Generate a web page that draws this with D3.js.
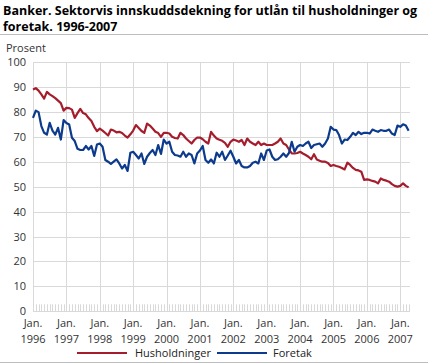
<!DOCTYPE html>
<html>
<head>
<meta charset="utf-8">
<script src="https://cdn.jsdelivr.net/npm/d3@7"></script>
<style>
  html, body { margin: 0; padding: 0; background: #fff; }
  svg { display: block; font-family: "Open Sans", "DejaVu Sans", sans-serif; }
</style>
</head>
<body>
<div id="chart"></div>
<script>
// Monthly values, Jan. 1996 - Apr. 2007 (percent)
const years = [1996, 1997, 1998, 1999, 2000, 2001, 2002, 2003, 2004, 2005, 2006, 2007];
const yTicks = [0, 10, 20, 30, 40, 50, 60, 70, 80, 90, 100];

const husholdninger = [
  89.0, 89.5, 88.5, 87.0, 85.3, 88.0, 87.0, 86.3, 85.5, 84.5, 83.5, 80.5, // 1996
  81.6, 81.5, 80.9, 77.6, 79.5, 81.2, 79.5, 79.0, 77.5, 76.3, 74.0, 72.3, // 1997
  73.3, 72.5, 71.5, 70.5, 72.9, 72.5, 71.8, 72.0, 71.5, 70.5, 69.7, 71.0, // 1998
  72.5, 74.7, 73.5, 72.3, 71.6, 75.3, 74.5, 73.3, 72.0, 71.5, 70.0, 71.6, // 1999
  71.6, 71.3, 70.0, 69.5, 69.3, 71.6, 70.7, 69.3, 68.3, 67.3, 68.7, 69.7, // 2000
  69.7, 69.0, 68.0, 67.3, 72.0, 70.5, 69.3, 68.8, 68.4, 67.6, 66.0, 68.0, // 2001
  68.9, 68.5, 68.0, 68.7, 66.7, 69.3, 68.0, 67.3, 66.7, 68.0, 66.7, 67.3, // 2002
  66.7, 66.7, 66.7, 67.3, 68.0, 69.3, 67.3, 66.7, 64.9, 63.3, 63.3, 63.5, // 2003
  64.0, 63.3, 62.7, 62.0, 61.0, 63.0, 60.9, 60.4, 60.0, 60.0, 59.5, 58.3, // 2004
  58.7, 58.3, 58.0, 57.5, 56.9, 59.6, 58.7, 57.5, 56.7, 56.5, 56.0, 52.7, // 2005
  52.9, 52.7, 52.3, 52.0, 51.3, 53.3, 52.7, 52.4, 52.0, 51.0, 50.3, 50.0, // 2006
  50.3, 51.3, 50.3, 49.7                                                  // 2007
];

const foretak = [
  77.6, 80.5, 79.9, 74.3, 71.6, 70.9, 75.6, 72.5, 70.9, 73.6, 68.9, 76.7, // 1996
  75.5, 74.9, 69.6, 68.3, 65.2, 64.7, 64.7, 66.3, 64.9, 66.3, 62.3, 66.9, // 1997
  67.3, 66.0, 60.7, 60.0, 59.1, 60.0, 60.9, 59.3, 57.3, 58.7, 56.3, 63.6, // 1998
  64.0, 62.7, 61.3, 63.3, 59.1, 62.0, 63.5, 64.7, 62.7, 66.7, 63.1, 68.9, // 1999
  67.3, 68.0, 64.0, 62.7, 62.5, 62.0, 64.0, 62.0, 63.3, 62.7, 59.3, 63.3, // 2000
  64.5, 66.3, 60.7, 59.6, 60.9, 59.3, 63.6, 62.0, 64.0, 60.7, 62.5, 64.4, // 2001
  62.0, 59.3, 60.7, 58.3, 57.7, 57.7, 58.3, 59.6, 60.0, 59.3, 63.3, 60.7, // 2002
  64.5, 64.9, 62.0, 60.7, 61.0, 62.0, 63.3, 62.0, 63.5, 68.0, 64.0, 66.0, // 2003
  66.7, 66.3, 67.3, 68.0, 65.5, 66.7, 67.0, 67.3, 66.0, 67.3, 69.3, 74.0, // 2004
  72.9, 72.7, 70.7, 67.3, 68.9, 68.7, 70.0, 71.6, 70.7, 72.0, 71.1, 71.6, // 2005
  71.6, 71.3, 72.9, 72.4, 72.0, 72.7, 72.4, 72.4, 72.9, 71.3, 70.7, 74.5, // 2006
  74.0, 75.0, 74.5, 72.4                                                  // 2007
];

const seriesNames = ["Husholdninger", "Foretak"];
const seriesColors = ["#a51d2d", "#0c3a8c"];

const width = 428, height = 364;
const margin = { left: 33, right: 18, top: 62, bottom: 53 };

const svg = d3.select("#chart").append("svg")
  .attr("width", width)
  .attr("height", height);

// Title (two lines)
const title = svg.append("text")
  .attr("fill", "#000")
  .attr("font-size", "12.5px")
  .attr("font-weight", "bold");
title.append("tspan").attr("x", 3).attr("y", 15)
  .text("Banker. Sektorvis innskuddsdekning for utlån til husholdninger og");
title.append("tspan").attr("x", 3).attr("y", 31)
  .text("foretak. 1996-2007");

// rules above and below the chart
svg.append("g")
  .selectAll("line")
  .data([34.5, 362.5])
  .join("line")
  .attr("x1", 0).attr("x2", width)
  .attr("y1", (d) => d).attr("y2", (d) => d)
  .attr("stroke", "#bdbdbd");

svg.append("text")
  .attr("x", 6).attr("y", 52)
  .attr("font-size", "11px")
  .attr("fill", "#333")
  .text("Prosent");

// Scales
const nMonths = husholdninger.length;
const x = d3.scaleLinear()
  .domain([0, 135.5])
  .range([margin.left, width - margin.right]);
const y = d3.scaleLinear()
  .domain([0, 100])
  .range([height - margin.bottom + 0.3, margin.top]);

// Horizontal grid
svg.append("g")
  .selectAll("line")
  .data(yTicks)
  .join("line")
  .attr("x1", x(0)).attr("x2", x(135.5))
  .attr("y1", (d) => Math.round(y(d)) + 0.5)
  .attr("y2", (d) => Math.round(y(d)) + 0.5)
  .attr("stroke", "#d9d9d9");

// Vertical grid at each January
svg.append("g")
  .selectAll("line")
  .data(years)
  .join("line")
  .attr("x1", (_, i) => Math.round(x(i * 12)) + 0.5)
  .attr("x2", (_, i) => Math.round(x(i * 12)) + 0.5)
  .attr("y1", y(100)).attr("y2", y(0))
  .attr("stroke", "#d9d9d9");

// Monthly ticks along the bottom
svg.append("g")
  .selectAll("line")
  .data(d3.range(nMonths))
  .join("line")
  .attr("x1", (d) => Math.round(x(d)) + 0.5)
  .attr("x2", (d) => Math.round(x(d)) + 0.5)
  .attr("y1", y(0) - 7).attr("y2", y(0))
  .attr("stroke", "#d9d9d9");

// Y labels
svg.append("g")
  .selectAll("text")
  .data(yTicks)
  .join("text")
  .attr("x", 26)
  .attr("y", (d) => y(d) + 4)
  .attr("text-anchor", "end")
  .attr("font-size", "11px")
  .attr("fill", "#333")
  .text((d) => d);

// X labels: "Jan." over the year
const xl = svg.append("g")
  .selectAll("text")
  .data(years)
  .join("text")
  .attr("text-anchor", "middle")
  .attr("font-size", "11px")
  .attr("fill", "#333");
xl.append("tspan")
  .attr("x", (_, i) => x(i * 12))
  .attr("y", 327)
  .text("Jan.");
xl.append("tspan")
  .attr("x", (_, i) => x(i * 12))
  .attr("y", 343)
  .text((d) => d);

// Lines
const line = d3.line()
  .x((_, i) => x(i))
  .y((d) => y(d));

[husholdninger, foretak].forEach((values, k) => {
  svg.append("path")
    .datum(values)
    .attr("fill", "none")
    .attr("stroke", seriesColors[k])
    .attr("stroke-width", 2.2)
    .attr("stroke-linejoin", "round")
    .attr("d", line);
});

// Legend
const legendX = [77, 217];
const legend = svg.append("g")
  .selectAll("g")
  .data(seriesNames)
  .join("g")
  .attr("transform", (_, i) => `translate(${legendX[i]},353)`);
legend.append("line")
  .attr("x1", 0).attr("x2", 50)
  .attr("stroke", (_, i) => seriesColors[i])
  .attr("stroke-width", 2.2);
legend.append("text")
  .attr("x", (_, i) => (i === 0 ? 58 : 56))
  .attr("y", 4)
  .attr("font-size", "11px")
  .attr("fill", "#222")
  .text((d) => d);
</script>
</body>
</html>
